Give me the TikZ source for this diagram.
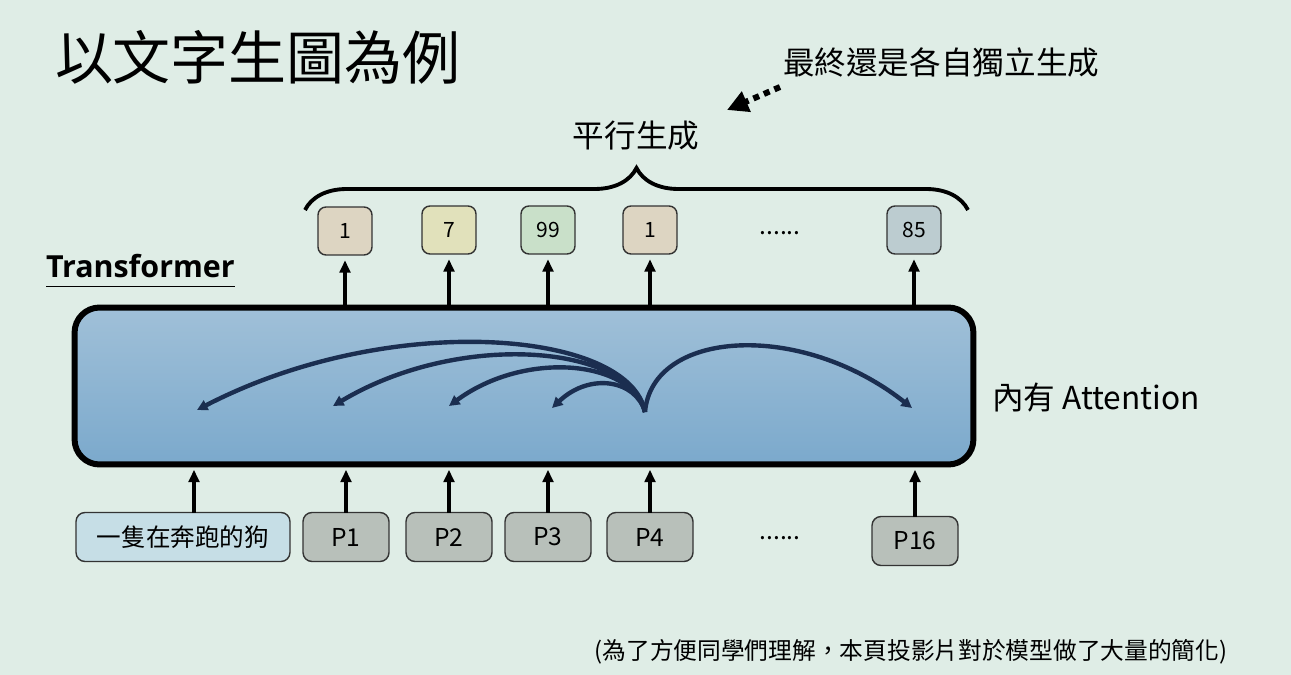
\documentclass[tikz,border=0pt]{standalone}
\usepackage{fontspec}
\setmainfont{Noto Sans CJK TC}
\newfontfamily\latinbold{Open Sans}
\usetikzlibrary{arrows.meta,decorations.pathreplacing,positioning}

\definecolor{bgcol}{HTML}{DFEDE6}
\definecolor{outbeige}{HTML}{DDD5C2}
\definecolor{outyellow}{HTML}{E1E1BB}
\definecolor{outgreen}{HTML}{C9E0C9}
\definecolor{outblue}{HTML}{BCCCD0}
\definecolor{inblue}{HTML}{C6DEE6}
\definecolor{ingray}{HTML}{B8C0BA}
\definecolor{navy}{HTML}{1B2E50}
\definecolor{tftop}{HTML}{A0C0D8}
\definecolor{tfbottom}{HTML}{7BA9CC}

\begin{document}
\begin{tikzpicture}[x=0.02cm, y=-0.02cm,
  every node/.style={inner sep=0pt, outer sep=0pt},
  outbox/.style={draw=black!80, line width=0.8pt, rounded corners=0.16cm, minimum width=1.08cm, minimum height=0.96cm, font=\fontsize{12}{12}\selectfont},
  inbox/.style={draw=black!80, line width=0.8pt, rounded corners=0.18cm, minimum width=1.72cm, minimum height=0.98cm, fill=ingray, font=\fontsize{14}{14}\selectfont},
  uparrow/.style={line width=2pt, shorten >=3pt, -{Triangle[length=7pt,width=6pt]}},
  attn/.style={draw=navy, line width=2.5pt, -{Triangle[length=6pt,width=6pt]}}]
\fill[bgcol] (0,0) rectangle (1291,675);
\useasboundingbox (0,0) rectangle (1291,675);

% title and notes
\node[anchor=west, font=\fontsize{33}{33}\selectfont] (title) at (55,57) {以文字生圖為例};
\node[anchor=west, font=\fontsize{18}{18}\selectfont] (final) at (783,62) {最終還是各自獨立生成};
\node[font=\fontsize{18}{18}\selectfont] (par) at (636,136) {平行生成};
\coordinate (dstart) at (780,87);
\coordinate (dend) at (727,110);
\draw[line width=3.4pt, dash pattern=on 3.5pt off 3pt, -{Triangle[length=12pt,width=12pt]}] (dstart) -- (dend);
\draw[decorate, decoration={brace, amplitude=0.84cm}, line width=2.2pt] (305,210) -- (968,210);

% outputs
\node[outbox, fill=outbeige] (o1) at (345,231) {1};
\node[outbox, fill=outyellow] (o2) at (449,230) {7};
\node[outbox, fill=outgreen] (o3) at (548,230) {99};
\node[outbox, fill=outbeige] (o4) at (650,230) {1};
\node[font=\fontsize{14}{14}\selectfont] (odots) at (780,233) {......};
\node[outbox, fill=outblue] (o16) at (914,230) {85};

% transformer
\node[anchor=west, font=\latinbold\bfseries\fontsize{17.3}{17.3}\selectfont] (tlabel) at (46,266) {Transformer};
\draw[line width=0.8pt] ([yshift=-5pt]tlabel.south west) -- ([yshift=-5pt]tlabel.south east);
\node[draw, line width=3.4pt, rounded corners=0.5cm, minimum width=17.98cm, minimum height=3.14cm, top color=tftop, bottom color=tfbottom] (tf) at (524,386) {};
\node[font=\fontsize{18}{18}\selectfont] (attnlabel) at (1096,398) {內有 Attention};

% inputs
\node[inbox, fill=inblue, minimum width=4.28cm] (txt) at (183,537) {一隻在奔跑的狗};
\node[inbox] (p1) at (346,537) {P1};
\node[inbox] (p2) at (449,537) {P2};
\node[inbox] (p3) at (548,537) {P3};
\node[inbox] (p4) at (650,537) {P4};
\node[font=\fontsize{14}{14}\selectfont] (idots) at (780,538) {......};
\node[inbox] (p16) at (915,541) {P16};

\foreach \o in {o1,o2,o3,o4,o16}
  \draw[uparrow] (\o.south |- tf.north) -- (\o.south);
\draw[uparrow] ([xshift=0.22cm]txt.north) -- ([xshift=0.22cm]txt.north |- tf.south);
\foreach \p in {p1,p2,p3,p4,p16}
  \draw[uparrow] (\p.north) -- (\p.north |- tf.south);

% attention
\coordinate (src) at (645,412);
\coordinate (a1) at (197,410);
\coordinate (a2) at (333,406);
\coordinate (a3) at (449,406);
\coordinate (a4) at (552,408);
\coordinate (a16) at (912,408);
\draw[attn] (src) .. controls (630,330) and (390,310) .. (a1);
\draw[attn] (src) .. controls (630,345) and (460,330) .. (a2);
\draw[attn] (src) .. controls (632,360) and (525,350) .. (a3);
\draw[attn] (src) .. controls (636,380) and (590,372) .. (a4);
\draw[attn] (src) .. controls (652,330) and (800,320) .. (a16);

\node[font=\fontsize{13.5}{13.5}\selectfont] (simp) at (911,652) {(為了方便同學們理解，本頁投影片對於模型做了大量的簡化)};
\end{tikzpicture}
\end{document}
